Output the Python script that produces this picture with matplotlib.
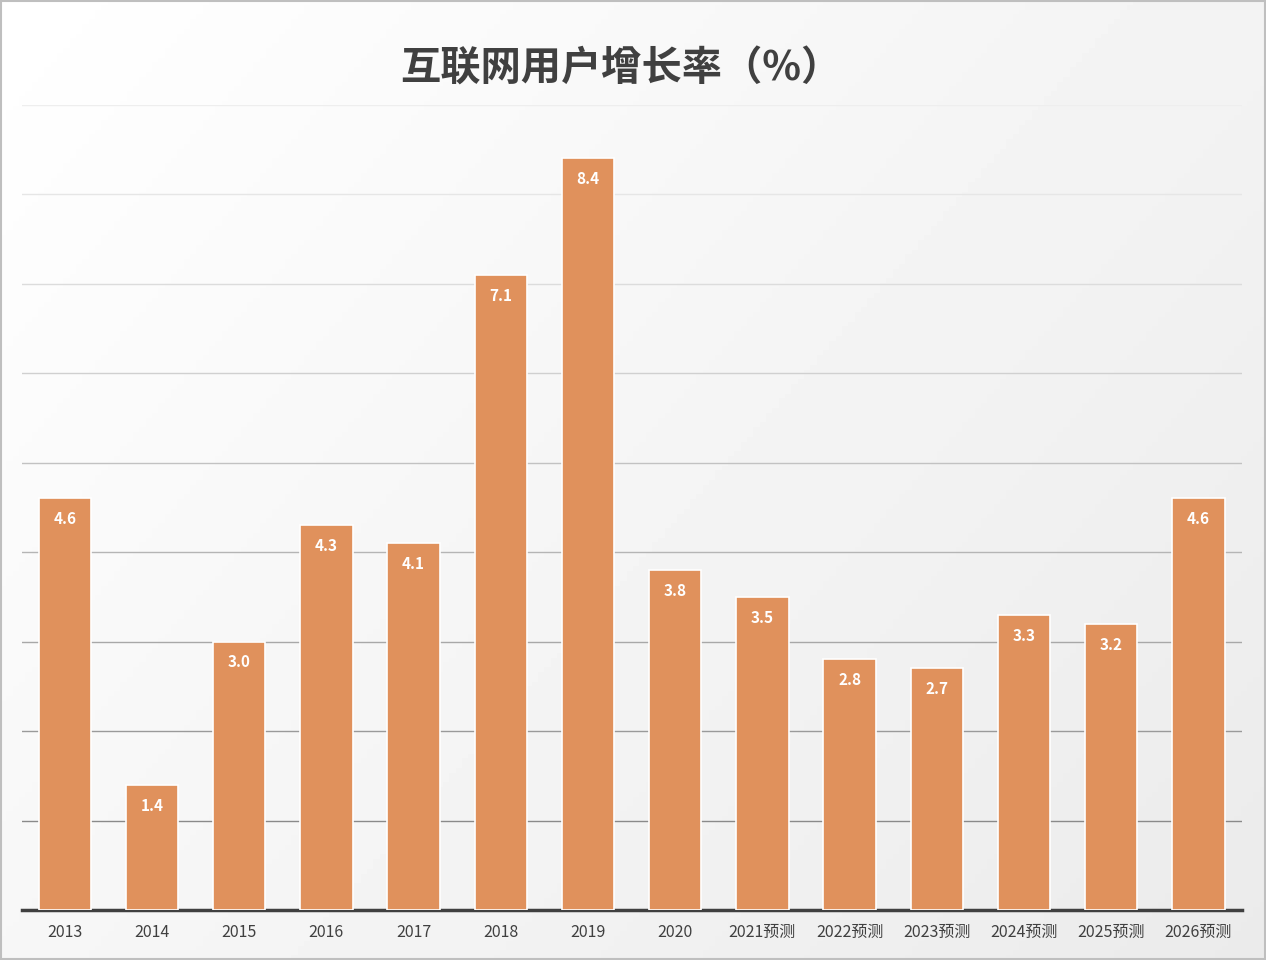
import numpy as np
import matplotlib.pyplot as plt
from matplotlib.patches import Rectangle

plt.rcParams['font.family'] = 'sans-serif'
plt.rcParams['font.sans-serif'] = ['Noto Sans CJK SC', 'Noto Sans CJK JP', 'Noto Sans CJK TC',
                                   'Noto Sans CJK KR', 'DejaVu Sans']

years = ['2013', '2014', '2015', '2016', '2017', '2018', '2019', '2020',
         '2021预测', '2022预测', '2023预测', '2024预测', '2025预测', '2026预测']
growth = [4.6, 1.4, 3.0, 4.3, 4.1, 7.1, 8.4, 3.8, 3.5, 2.8, 2.7, 3.3, 3.2, 4.6]

fig = plt.figure(figsize=(12.66, 9.6), dpi=100)

# light diagonal gradient background
bg = fig.add_axes([0, 0, 1, 1], zorder=-10)
yy, xx = np.mgrid[0:1:200j, 0:1:200j]
grad = 1 - 0.08 * (xx * 0.6 + yy * 0.4)
bg.imshow(grad, cmap='gray', vmin=0, vmax=1, aspect='auto', extent=[0, 1, 0, 1], origin='upper')
bg.axis('off')
fig.patches.append(Rectangle((0.001, 0.001), 0.998, 0.998, transform=fig.transFigure,
                             fill=False, edgecolor='#bfbfbf', linewidth=1.5))

ax = fig.add_axes([0.0174, 0.052, 0.9637, 0.839])
ax.patch.set_alpha(0)
x = np.arange(len(years))
bars = ax.bar(x, growth, width=0.6, color='#E0915C', edgecolor='white', linewidth=1.2, zorder=3)
for xi, v in zip(x, growth):
    ax.annotate(f'{v:.1f}', (xi, v), xytext=(0, -15), textcoords='offset points',
                ha='center', va='center', color='white', fontsize=11, fontweight='bold', zorder=4)

ax.set_xlim(-0.49, 13.5)
ax.set_ylim(0, 9)
ax.set_yticks(range(0, 10))
ax.yaxis.grid(True, linewidth=1)
ax.set_axisbelow(True)
cols = ['#3a3a3a', '#8a8a8a', '#9a9a9a', '#a8a8a8', '#b5b5b5', '#c2c2c2', '#d0d0d0', '#dcdcdc', '#e6e6e6', '#eeeeee']
for gl, c in zip(ax.get_ygridlines(), cols):
    gl.set_color(c)
ax.tick_params(axis='y', left=False, labelleft=False)
ax.tick_params(axis='x', length=0, labelsize=11.5, colors='#404040', pad=10)
ax.set_xticks(x)
ax.set_xticklabels(years)
for s in ['top', 'right', 'left']:
    ax.spines[s].set_visible(False)
ax.spines['bottom'].set_color('#404040')
ax.spines['bottom'].set_linewidth(2.5)

fig.text(0.49, 0.928, '互联网用户增长率（%）', ha='center', va='center',
         fontsize=29, fontweight='bold', color='#404040')

fig.savefig('out.png', dpi=100)
